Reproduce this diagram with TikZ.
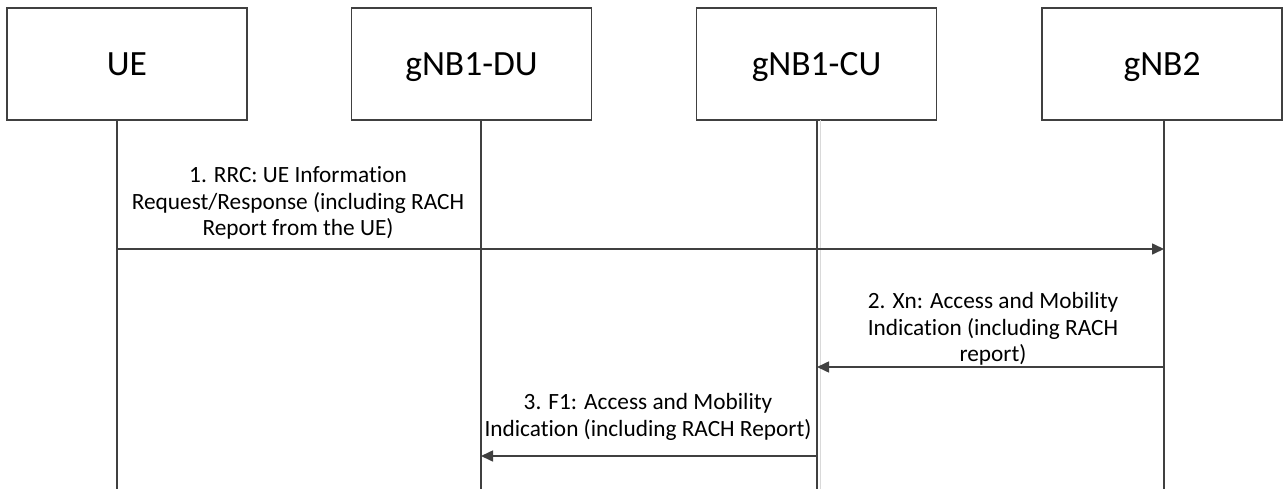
\documentclass[tikz,border=0pt]{standalone}
\usepackage{fontspec}
\setmainfont{Carlito}[Ligatures={NoCommon}]
\usetikzlibrary{arrows.meta}
\definecolor{ln}{HTML}{404040}
\begin{document}
\begin{tikzpicture}[x=1pt,y=-1pt,
  entity/.style={draw=ln,line width=1.6pt,minimum width=240pt,minimum height=112pt,inner sep=0pt,text height=22.5pt,text depth=0pt,font=\fontsize{35.5}{42}\selectfont},
  life/.style={draw=ln,line width=1.8pt},
  msg/.style={draw=ln,line width=1.6pt,-{Triangle[length=12pt,width=11pt]}},
  lbl/.style={align=center,inner sep=0pt,font=\fontsize{23.3}{26.5}\selectfont}]
\useasboundingbox (0,0) rectangle (1284,489);
\node[entity] (ue) at (127,64) {UE};
\node[entity] (du) at (471.5,64) {gNB1-DU};
\node[entity] (cu) at (816.5,64) {gNB1-CU};
\node[entity] (gnb2) at (1162,64) {gNB2};
% lifeline end points
\coordinate (ueT) at (117,120); \coordinate (ueB) at (117,489);
\coordinate (duT) at (481,120); \coordinate (duB) at (481,489);
\coordinate (cuT) at (817,120); \coordinate (cuB) at (817,489);
\coordinate (gT) at (1164,120); \coordinate (gB) at (1164,489);
\draw[life] (ueT) -- (ueB);
\draw[life] (duT) -- (duB);
\draw[draw=black!15,line width=1pt] (820,120) -- (820,489);
\draw[life] (cuT) -- (cuB);
\draw[life] (gT) -- (gB);
% message points
\coordinate (m1s) at (117,249); \coordinate (m1e) at (1164,249);
\coordinate (m2s) at (1164,367); \coordinate (m2e) at (817,367);
\coordinate (m3s) at (817,456); \coordinate (m3e) at (481,456);
\draw[msg] (m1s) -- (m1e);
\draw[msg] (m2s) -- (m2e);
\draw[msg] (m3s) -- (m3e);
\node[lbl] (l1) at (298,203) {1. RRC: UE Information\\Request/Response (including RACH\\Report from the UE)};
\node[lbl] (l2) at (993,329) {2. Xn: Access and Mobility\\Indication (including RACH\\report)};
\node[lbl] (l3) at (648,417) {3. F1: Access and Mobility\\Indication (including RACH Report)};
\end{tikzpicture}
\end{document}
